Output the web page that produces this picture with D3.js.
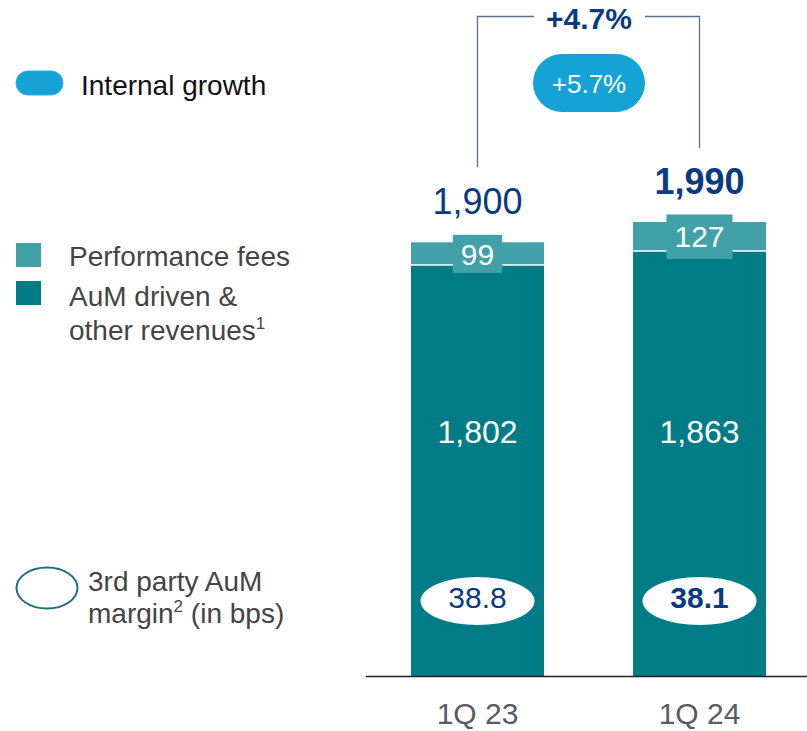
<!DOCTYPE html>
<html><head><meta charset="utf-8">
<script src="https://cdn.jsdelivr.net/npm/d3@7"></script>
<style>body{margin:0;background:#fff}svg{display:block;font-family:"Liberation Sans",Arial,sans-serif}</style>
</head><body><svg id="c" width="807" height="731"></svg>
<script>
const categories = ["1Q 23", "1Q 24"];
const aumRevenues = [1802, 1863];
const perfFees = [99, 127];
const totals = [1900, 1990];
const totalLabels = ["1,900", "1,990"];
const aumLabels = ["1,802", "1,863"];
const perfLabels = ["99", "127"];
const margins = ["38.8", "38.1"];
const growthTotal = "+4.7%";
const growthInternal = "+5.7%";

const C_AUM = "#007c87", C_PERF = "#42a0a8", NAVY = "#0a3a84", PILL = "#15a2d5";
const svg = d3.select("#c");
const x = d3.scaleBand().domain(categories).range([300, 877]).paddingInner(0.401).paddingOuter(0.5);
const y = d3.scaleLinear().domain([0, 1990]).range([676, 222]);
const bw = x.bandwidth();
const cx = c => x(c) + bw / 2;

categories.forEach((c, i) => {
  const top = aumRevenues[i] + perfFees[i];
  svg.append("rect").attr("x", x(c)).attr("width", bw).attr("y", y(aumRevenues[i])).attr("height", y(0) - y(aumRevenues[i])).attr("fill", C_AUM);
  svg.append("rect").attr("x", x(c)).attr("width", bw).attr("y", y(top)).attr("height", y(aumRevenues[i]) - y(top)).attr("fill", C_PERF);
  svg.append("line").attr("x1", x(c)).attr("x2", x(c) + bw).attr("y1", y(aumRevenues[i])).attr("y2", y(aumRevenues[i])).attr("stroke", "#fff").attr("stroke-width", 1.5);
  // perf label with box
  const mid = (y(top) + y(aumRevenues[i])) / 2;
  const t = svg.append("text").attr("x", cx(c)).attr("y", mid + 11).attr("text-anchor", "middle").attr("fill", "#fff").attr("font-size", 30).text(perfLabels[i]);
  const bb = t.node().getBBox();
  svg.insert("rect", () => t.node()).attr("x", bb.x - 8).attr("width", bb.width + 16)
    .attr("y", y(top) - 7.5).attr("height", y(aumRevenues[i]) - y(top) + 15.5).attr("fill", C_PERF);
  // aum label
  svg.append("text").attr("x", cx(c)).attr("y", 443).attr("text-anchor", "middle").attr("fill", "#fff").attr("font-size", 32).text(aumLabels[i]);
  // total label
  svg.append("text").attr("x", cx(c)).attr("y", y(totals[i]) - 28.5).attr("text-anchor", "middle").attr("fill", NAVY).attr("font-size", 36).attr("font-weight", i ? "bold" : "normal").text(totalLabels[i]);
  // margin ellipse
  svg.append("ellipse").attr("cx", cx(c)).attr("cy", 601).attr("rx", 57).attr("ry", 24).attr("fill", "#fff");
  svg.append("text").attr("x", cx(c)).attr("y", 607.5).attr("text-anchor", "middle").attr("fill", NAVY).attr("font-size", 30).attr("font-weight", i ? "bold" : "normal").text(margins[i]);
});

// baseline & category axis
svg.append("line").attr("x1", 366).attr("x2", 807).attr("y1", 676.5).attr("y2", 676.5).attr("stroke", "#222").attr("stroke-width", 1.5);
const ax = svg.append("g").attr("transform", "translate(0,676)").call(d3.axisBottom(x).tickSize(0).tickPadding(27));
ax.select(".domain").remove();
ax.selectAll("text").attr("font-size", 30).attr("fill", "#575b66").attr("font-family", "Liberation Sans, Arial, sans-serif");

// bracket
const lx = cx(categories[0]), rx = cx(categories[1]);
const br = svg.append("g").attr("fill", "none").attr("stroke", "#5a6f8e").attr("stroke-width", 1.3);
br.append("path").attr("d", `M${lx},167V16.5H534`);
br.append("path").attr("d", `M645,16.5H${rx}V148`);
svg.append("text").attr("x", 589).attr("y", 29).attr("text-anchor", "middle").attr("fill", NAVY).attr("font-size", 30).attr("font-weight", "bold").text(growthTotal);
svg.append("rect").attr("x", 533).attr("y", 54).attr("width", 112).attr("height", 58).attr("rx", 29).attr("fill", PILL);
svg.append("text").attr("x", 589).attr("y", 93).attr("text-anchor", "middle").attr("fill", "#fff").attr("font-size", 26).text(growthInternal);

// legend
svg.append("rect").attr("x", 16).attr("y", 71).attr("width", 47).attr("height", 24).attr("rx", 12).attr("fill", PILL).attr("stroke", "#2ab0e6").attr("stroke-width", 1);
svg.append("text").attr("x", 81).attr("y", 95).attr("font-size", 28).attr("fill", "#111").text("Internal growth");
svg.append("rect").attr("x", 16).attr("y", 243).attr("width", 25).attr("height", 24).attr("fill", C_PERF);
svg.append("text").attr("x", 69).attr("y", 266).attr("font-size", 28).attr("fill", "#444").text("Performance fees");
svg.append("rect").attr("x", 16).attr("y", 281).attr("width", 25).attr("height", 24).attr("fill", C_AUM);
svg.append("text").attr("x", 69).attr("y", 306).attr("font-size", 28).attr("fill", "#444").text("AuM driven &");
const t2 = svg.append("text").attr("x", 69).attr("y", 340).attr("font-size", 28).attr("fill", "#444").text("other revenues");
t2.append("tspan").attr("font-size", 17).attr("dy", -11).text("1");
svg.append("ellipse").attr("cx", 47).attr("cy", 588).attr("rx", 30.5).attr("ry", 20.5).attr("fill", "none").attr("stroke", "#1b6f80").attr("stroke-width", 2);
svg.append("text").attr("x", 88).attr("y", 591).attr("font-size", 28).attr("fill", "#444").text("3rd party AuM");
const t3 = svg.append("text").attr("x", 88).attr("y", 623).attr("font-size", 28).attr("fill", "#444").text("margin");
t3.append("tspan").attr("font-size", 17).attr("dy", -11).text("2");
t3.append("tspan").attr("dy", 11).text(" (in bps)");
</script></body></html>
